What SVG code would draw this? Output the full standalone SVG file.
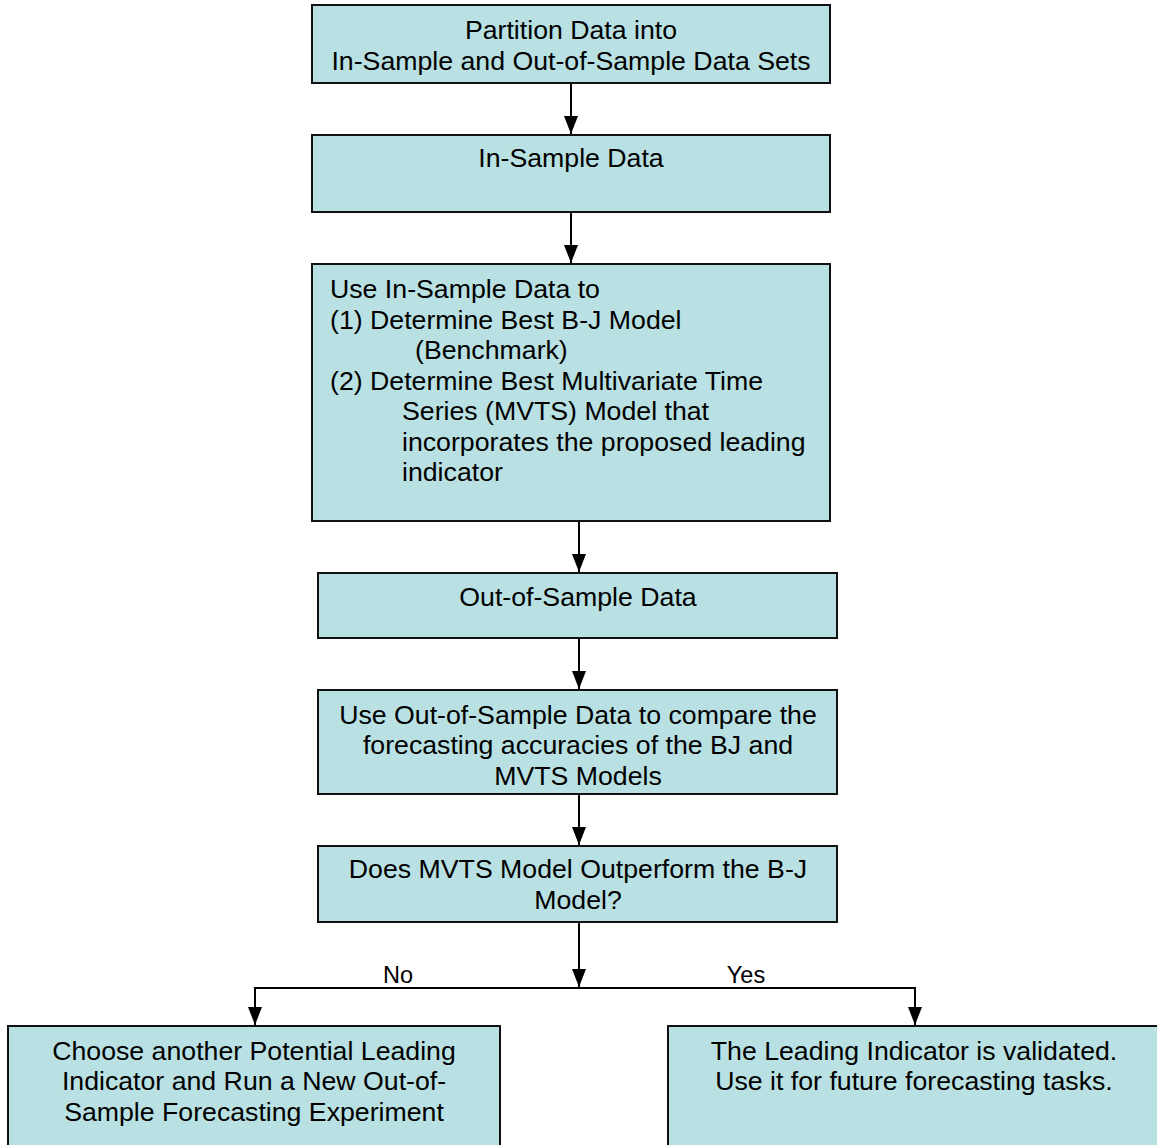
<svg xmlns="http://www.w3.org/2000/svg" width="1157" height="1145" viewBox="0 0 1157 1145">
<style>
.box{fill:#b9e0e2;stroke:#111;stroke-width:2}
text{font-family:"Liberation Sans",Arial,sans-serif;font-size:26.7px;fill:#000}
.c{text-anchor:middle}
.lbl{font-size:23.5px}
.ln{fill:none;stroke:#000;stroke-width:2}
</style>
<defs>
<marker id="ah" viewBox="0 0 18 14" refX="18" refY="7" markerWidth="18" markerHeight="14" markerUnits="userSpaceOnUse" orient="auto-start-reverse">
<path d="M0,0 L18,7 L0,14 Z" fill="#000"/>
</marker>
</defs>
<rect width="1157" height="1145" fill="#fff"/>
<g id="connectors">
<line class="ln" x1="571" y1="84" x2="571" y2="134" marker-end="url(#ah)"/>
<line class="ln" x1="571" y1="213" x2="571" y2="263" marker-end="url(#ah)"/>
<line class="ln" x1="579" y1="522" x2="579" y2="572" marker-end="url(#ah)"/>
<line class="ln" x1="579" y1="639" x2="579" y2="689" marker-end="url(#ah)"/>
<line class="ln" x1="579" y1="795" x2="579" y2="845" marker-end="url(#ah)"/>
<line class="ln" x1="579" y1="923" x2="579" y2="987" marker-end="url(#ah)"/>
<polyline class="ln" points="255,1025 255,988 915,988 915,1025" marker-start="url(#ah)" marker-end="url(#ah)"/>
<text class="lbl c" x="398" y="983">No</text>
<text class="lbl c" x="746" y="983">Yes</text>
</g>
<g id="n1">
<rect class="box" x="312" y="5" width="518" height="78"/>
<text class="c" x="571" y="39">Partition Data into</text>
<text class="c" x="571" y="70">In-Sample and Out-of-Sample Data Sets</text>
</g>
<g id="n2">
<rect class="box" x="312" y="135" width="518" height="77"/>
<text class="c" x="571" y="167">In-Sample Data</text>
</g>
<g id="n3">
<rect class="box" x="312" y="264" width="518" height="257"/>
<text x="330" y="298">Use In-Sample Data to</text>
<text x="330" y="329">(1) Determine Best B-J Model</text>
<text x="415" y="359">(Benchmark)</text>
<text x="330" y="390">(2) Determine Best Multivariate Time</text>
<text x="402" y="420">Series (MVTS) Model that</text>
<text x="402" y="451">incorporates the proposed leading</text>
<text x="402" y="481">indicator</text>
</g>
<g id="n4">
<rect class="box" x="318" y="573" width="519" height="65"/>
<text class="c" x="578" y="606">Out-of-Sample Data</text>
</g>
<g id="n5">
<rect class="box" x="318" y="690" width="519" height="104"/>
<text class="c" x="578" y="724">Use Out-of-Sample Data to compare the</text>
<text class="c" x="578" y="754">forecasting accuracies of the BJ and</text>
<text class="c" x="578" y="785">MVTS Models</text>
</g>
<g id="n6">
<rect class="box" x="318" y="846" width="519" height="76"/>
<text class="c" x="578" y="878">Does MVTS Model Outperform the B-J</text>
<text class="c" x="578" y="909">Model?</text>
</g>
<g id="n7">
<rect class="box" x="8" y="1026" width="492" height="130"/>
<text class="c" x="254" y="1060">Choose another Potential Leading</text>
<text class="c" x="254" y="1090">Indicator and Run a New Out-of-</text>
<text class="c" x="254" y="1121">Sample Forecasting Experiment</text>
</g>
<g id="n8">
<rect class="box" x="668" y="1026" width="500" height="130"/>
<text class="c" x="914" y="1060">The Leading Indicator is validated.</text>
<text class="c" x="914" y="1090">Use it for future forecasting tasks.</text>
</g>
</svg>
